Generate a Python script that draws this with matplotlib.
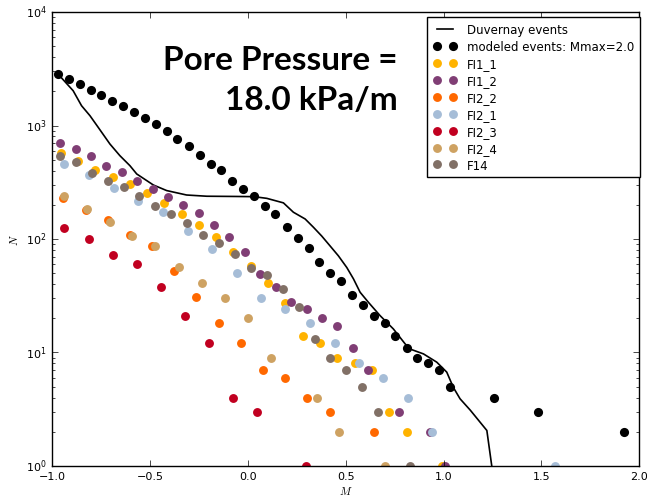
import matplotlib
matplotlib.use("Agg")
import matplotlib.pyplot as plt

plt.style.use("classic")
plt.rcParams["figure.facecolor"] = "white"
plt.rcParams["savefig.facecolor"] = "white"

# ---- data ----
duv_M = [-0.973, -0.945, -0.894, -0.851, -0.808, -0.766, -0.706, -0.655, -0.604, -0.569,
         -0.484, -0.416, -0.314, -0.211, -0.075, 0.030, 0.096, 0.181, 0.232, 0.292,
         0.334, 0.377, 0.419, 0.462, 0.505, 0.539, 0.573, 0.615, 0.675, 0.743,
         0.803, 0.829, 0.897, 0.965, 1.016, 1.050, 1.084, 1.136, 1.221, 1.246]
duv_N = [2860, 2533, 2026, 1494, 1220, 964, 687, 542, 443, 374,
         299, 267, 244, 238, 237, 236, 228, 208, 172, 150,
         127, 106, 87, 71, 56, 44.5, 33.9, 27.7, 21.1, 16.1,
         11.9, 10.7, 9.7, 8.2, 6.7, 4.9, 3.9, 3.1, 2.05, 1.0]

mod_M = [-0.973, -0.914, -0.859, -0.805, -0.750, -0.696, -0.638, -0.582, -0.527, -0.472,
         -0.416, -0.362, -0.303, -0.246, -0.191, -0.137, -0.082, -0.024, 0.031, 0.085,
         0.140, 0.198, 0.254, 0.310, 0.365, 0.419, 0.474, 0.532, 0.590, 0.644,
         0.699, 0.753, 0.812, 0.866, 0.921, 0.978, 1.033, 1.255, 1.480, 1.923]
mod_N = [2860, 2570, 2322, 2056, 1858, 1644, 1477, 1306, 1164, 1025,
         895, 761, 656, 553, 461, 403, 326, 276, 240, 194,
         166, 127, 102, 83, 63, 50, 43, 32, 26, 21,
         18, 14, 11, 9, 8, 7, 5, 4, 3, 2]

fi1_1_M = [-0.958, -0.867, -0.780, -0.692, -0.604, -0.516, -0.429, -0.339, -0.251, -0.163,
           -0.075, 0.015, 0.102, 0.191, 0.280, 0.367, 0.457, 0.545, 0.633, 0.722, 0.811, 0.991]
fi1_1_N = [572, 487, 408, 353, 304, 253, 208, 166, 134, 104,
           77, 58, 41, 27, 14, 12, 9, 8, 7, 3, 2, 1]

fi1_2_M = [-0.962, -0.881, -0.803, -0.725, -0.646, -0.566, -0.487, -0.409, -0.331, -0.251,
           -0.174, -0.096, -0.017, 0.061, 0.142, 0.220, 0.300, 0.377, 0.457, 0.536,
           0.614, 0.772, 0.931, 1.008]
fi1_2_N = [701, 621, 535, 442, 387, 323, 276, 233, 201, 169,
           134, 104, 77, 49, 38, 28, 24, 20, 17, 11,
           7, 3, 2, 1]

fi2_2_M = [-0.945, -0.830, -0.718, -0.605, -0.493, -0.379, -0.266, -0.150, -0.037, 0.075,
           0.189, 0.303, 0.419, 0.644]
fi2_2_N = [228, 181, 148, 108, 86, 52, 31, 18, 12, 7,
           6, 4, 3, 2]

fi2_1_M = [-0.940, -0.812, -0.685, -0.560, -0.436, -0.308, -0.186, -0.058, 0.064, 0.191,
           0.317, 0.443, 0.565, 0.692, 0.817, 0.942, 1.570]
fi2_1_N = [456, 368, 280, 217, 173, 118, 82, 50, 30, 24,
           18, 12, 8, 6, 4, 2, 1]

fi2_3_M = [-0.940, -0.813, -0.691, -0.569, -0.445, -0.324, -0.198, -0.078, 0.045, 0.295]
fi2_3_N = [125, 99, 72, 60, 37.5, 21, 12, 4, 3, 1]

fi2_4_M = [-0.941, -0.825, -0.708, -0.591, -0.473, -0.354, -0.235, -0.118, 0.000, 0.116,
           0.351, 0.467, 0.702]
fi2_4_N = [237, 182, 142, 106, 86, 57, 41, 30, 20, 9,
           4, 2, 1]

f14_M = [-0.962, -0.880, -0.798, -0.718, -0.636, -0.556, -0.474, -0.393, -0.311, -0.229,
         -0.148, -0.066, 0.015, 0.096, 0.178, 0.259, 0.340, 0.421, 0.503, 0.584,
         0.664, 0.829]
f14_N = [539, 480, 381, 321, 289, 239, 197, 166, 138, 108,
         92, 73, 56, 48, 36, 25, 13, 9, 7, 5,
         3, 1]

series = [
    ("FI1_1", fi1_1_M, fi1_1_N, "#FFB300"),
    ("FI1_2", fi1_2_M, fi1_2_N, "#803E75"),
    ("FI2_2", fi2_2_M, fi2_2_N, "#FF6800"),
    ("FI2_1", fi2_1_M, fi2_1_N, "#A6BDD7"),
    ("FI2_3", fi2_3_M, fi2_3_N, "#C10020"),
    ("FI2_4", fi2_4_M, fi2_4_N, "#CEA262"),
    ("F14", f14_M, f14_N, "#817066"),
]

title_lines = ["Pore Pressure =", "18.0 kPa/m"]

# ---- figure ----
fig = plt.figure(figsize=(6.47, 5.02), dpi=100)
ax = fig.add_axes([0.081, 0.070, 0.907, 0.904])

ax.plot(duv_M, duv_N, color="black", lw=1.2, label="Duvernay events")
ax.plot(mod_M, mod_N, "o", color="black", ms=6.6, mew=0, label="modeled events: Mmax=2.0")
for name, m, n, c in series:
    ax.plot(m, n, "o", color=c, ms=6.4, mew=0, label=name)

ax.set_yscale("log")
ax.set_xlim(-1.0, 2.0)
ax.set_ylim(1, 1e4)
ax.set_xticks([-1.0, -0.5, 0.0, 0.5, 1.0, 1.5, 2.0])
ax.tick_params(axis="both", which="major", labelsize=8)
ax.set_xlabel("$M$", fontsize=8, labelpad=2)
ax.set_ylabel("$N$", fontsize=8, labelpad=4)

leg = ax.legend(loc="upper right", bbox_to_anchor=(1.002, 0.988), borderaxespad=0.0,
                fontsize=8.5, numpoints=2, handlelength=2.0, labelspacing=0.33,
                handletextpad=0.9, borderpad=0.5,
                frameon=True, fancybox=False)
leg.get_frame().set_edgecolor("black")

fig.text(0.615, 1 - 70.5 / 502, title_lines[0], ha="right", va="baseline",
         fontsize=24, fontweight="bold", family="Lato")
fig.text(0.615, 1 - 110 / 502, title_lines[1], ha="right", va="baseline",
         fontsize=24, fontweight="bold", family="Lato")

fig.savefig("out.png", dpi=100)
